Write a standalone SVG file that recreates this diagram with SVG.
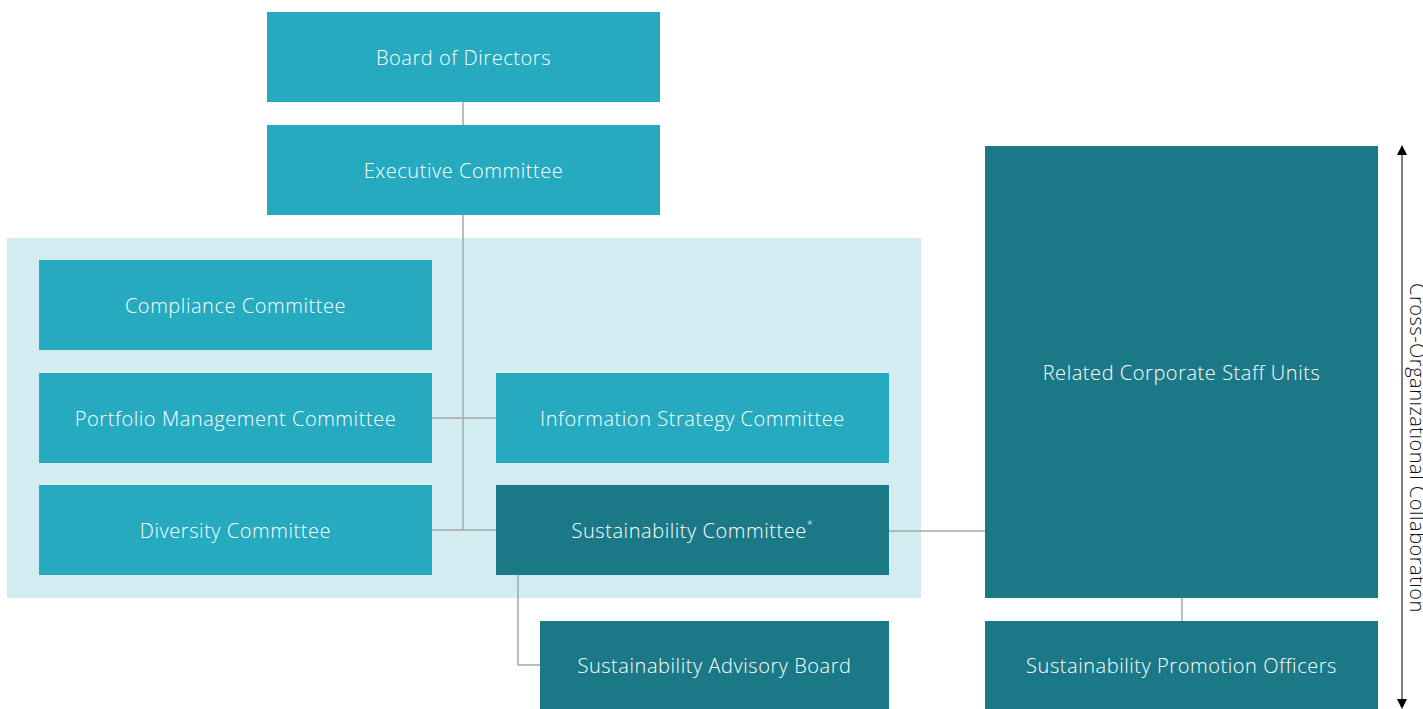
<svg xmlns="http://www.w3.org/2000/svg" width="1423" height="709" viewBox="0 0 1423 709">
<defs>
<style>
.mid{fill:#25aabf}
.dark{fill:#1b7987}
.lbl{font-family:"Open Sans","Noto Sans",sans-serif;font-weight:300;font-size:20px;letter-spacing:0.55px;fill:#ffffff;text-anchor:middle;dominant-baseline:central}
.ln{stroke:#a6a6a6;stroke-width:1.5;fill:none}
</style>
<marker id="ah" viewBox="0 0 10 10" refX="5" refY="5" markerWidth="10" markerHeight="10" markerUnits="userSpaceOnUse" orient="auto-start-reverse">
<path d="M0,0 L10,5 L0,10 z" fill="#000"/>
</marker>
</defs>
<rect x="0" y="0" width="1423" height="709" fill="#fff"/>
<rect id="panel" x="7" y="238" width="914" height="360" fill="#d3ecf1"/>
<g id="connectors">
<path class="ln" d="M463,102 V125 M463,215 V530 M432,418 H496 M432,530 H496 M889,531 H985 M518,575 V665 H540 M1182,598 V621"/>
</g>
<g id="board"><rect class="mid" x="267" y="12" width="393" height="90"/><text class="lbl" x="463.5" y="57">Board of Directors</text></g>
<g id="exec"><rect class="mid" x="267" y="125" width="393" height="90"/><text class="lbl" x="463.5" y="170">Executive Committee</text></g>
<g id="compliance"><rect class="mid" x="39" y="260" width="393" height="90"/><text class="lbl" x="235.5" y="305">Compliance Committee</text></g>
<g id="portfolio"><rect class="mid" x="39" y="373" width="393" height="90"/><text class="lbl" x="235.5" y="418">Portfolio Management Committee</text></g>
<g id="diversity"><rect class="mid" x="39" y="485" width="393" height="90"/><text class="lbl" x="235.5" y="530">Diversity Committee</text></g>
<g id="info"><rect class="mid" x="496" y="373" width="393" height="90"/><text class="lbl" x="692.5" y="418">Information Strategy Committee</text></g>
<g id="sustain"><rect class="dark" x="496" y="485" width="393" height="90"/><text class="lbl" x="692.5" y="530">Sustainability Committee<tspan font-size="11" dy="-7">*</tspan></text></g>
<g id="advisory"><rect class="dark" x="540" y="621" width="349" height="88"/><text class="lbl" x="714.5" y="665">Sustainability Advisory Board</text></g>
<g id="staff"><rect class="dark" x="985" y="146" width="393" height="452"/><text class="lbl" x="1181.5" y="372">Related Corporate Staff Units</text></g>
<g id="officers"><rect class="dark" x="985" y="621" width="393" height="88"/><text class="lbl" x="1181.5" y="665">Sustainability Promotion Officers</text></g>
<g id="collab">
<line x1="1402" y1="150" x2="1402" y2="704" stroke="#555" stroke-width="1.5" marker-start="url(#ah)" marker-end="url(#ah)"/>
<text x="1410" y="448" transform="rotate(90 1410 448)" font-family="Open Sans, Noto Sans, sans-serif" font-weight="300" font-size="20" letter-spacing="0.5" fill="#111" text-anchor="middle">Cross-Organizational Collaboration</text>
</g>
</svg>
